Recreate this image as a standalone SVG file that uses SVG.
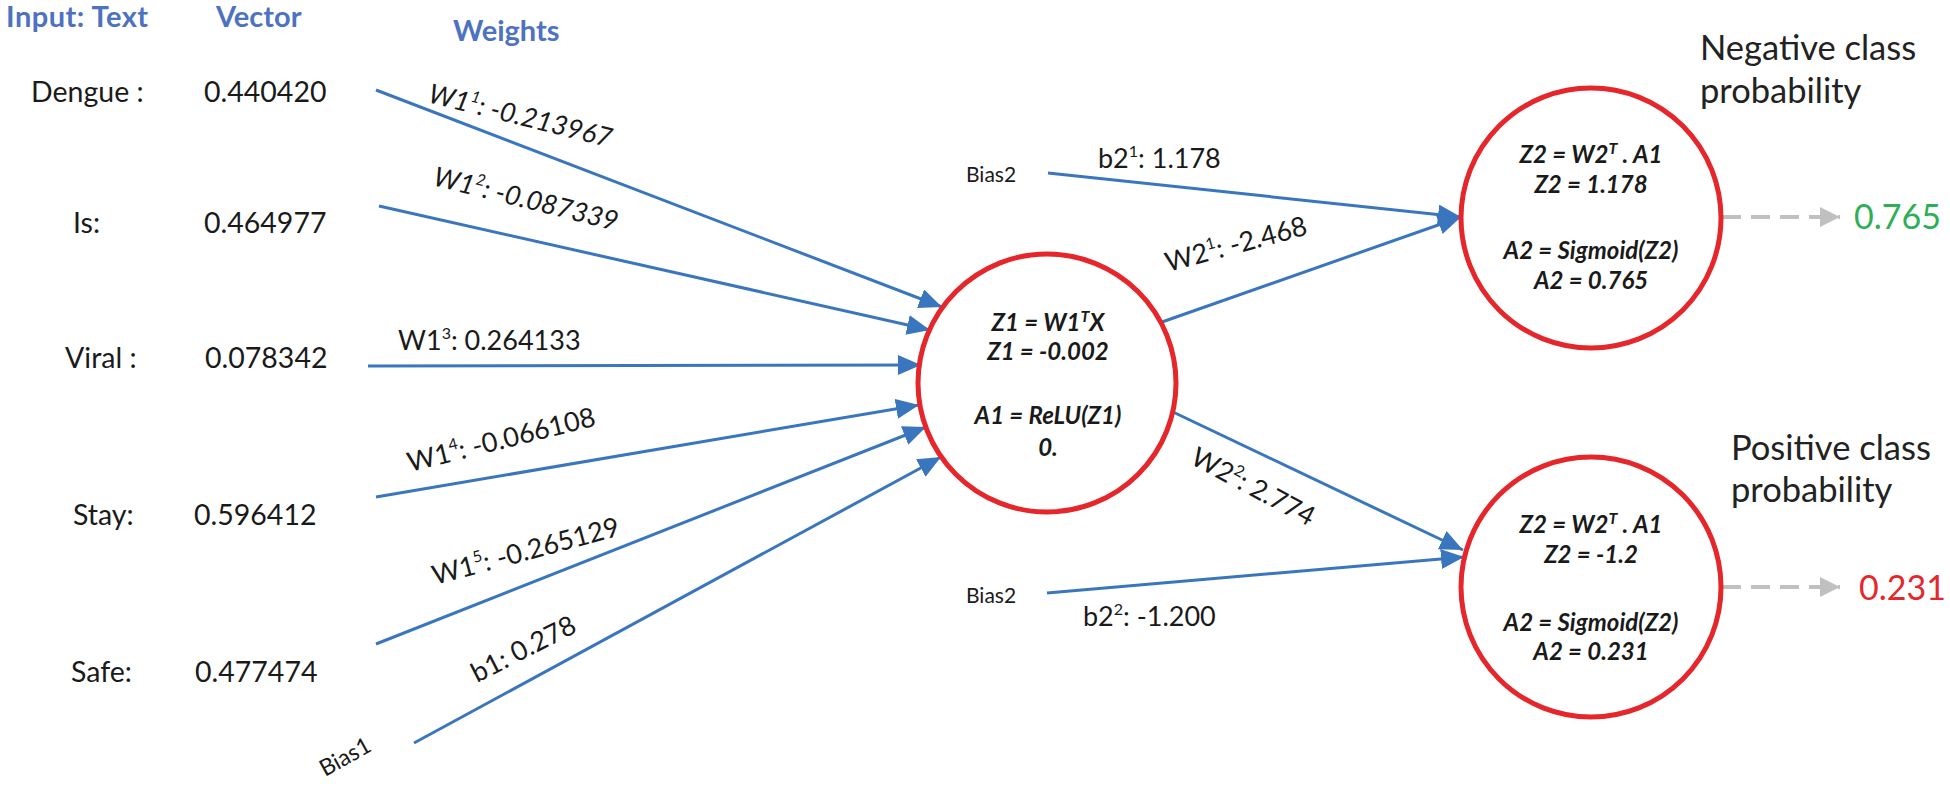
<svg xmlns="http://www.w3.org/2000/svg" width="1950" height="786" viewBox="0 0 1950 786">
<style>
  text { font-family: Lato, "Liberation Sans", sans-serif; fill: #1a1a1a; }
  .hdr { font-size: 29px; font-weight: bold; fill: #4D72C2; }
  .lbl { font-size: 28.5px; }
  .w { font-size: 27px; }
  .it { font-style: italic; }
  .sup { font-size: 16px; }
  .bias { font-size: 21px; }
  .node { font-size: 24px; font-weight: bold; font-style: italic; text-anchor: middle; }
  .title { font-size: 34.5px; fill: #222; }
  .out { font-size: 34px; }
  .conn { stroke: #3A76BD; stroke-width: 3; fill: none; marker-end: url(#arr); }
  .dash { stroke: #C0C0C0; stroke-width: 4; fill: none; stroke-dasharray: 19 10; marker-end: url(#garr); }
  .neuron { fill: #fff; stroke: #E5262B; stroke-width: 5; }
</style>
<defs>
  <marker id="arr" markerUnits="userSpaceOnUse" markerWidth="26" markerHeight="22" refX="23" refY="10" orient="auto">
    <path d="M0,0 L23,10 L0,20 Z" fill="#3A76BD"/>
  </marker>
  <marker id="garr" markerUnits="userSpaceOnUse" markerWidth="24" markerHeight="22" refX="20" refY="10" orient="auto">
    <path d="M0,0 L20,10 L0,20 Z" fill="#C0C0C0"/>
  </marker>
</defs>
<rect width="1950" height="786" fill="#fff"/>

<g id="headers">
  <text class="hdr" x="6" y="27" style="letter-spacing:0.5px">Input: Text</text>
  <text class="hdr" x="216" y="27">Vector</text>
  <text class="hdr" x="453" y="41">Weights</text>
</g>

<g id="connectors">
  <line class="conn" x1="376" y1="90" x2="942" y2="307"/>
  <line class="conn" x1="379" y1="206" x2="930" y2="330"/>
  <line class="conn" x1="368" y1="366" x2="921" y2="365"/>
  <line class="conn" x1="376" y1="497" x2="919" y2="405"/>
  <line class="conn" x1="376" y1="644" x2="926" y2="427"/>
  <line class="conn" x1="414" y1="743" x2="941" y2="457"/>
  <line class="conn" x1="1048" y1="173" x2="1461" y2="217"/>
  <line class="conn" x1="1162" y1="322" x2="1461" y2="217"/>
  <line class="conn" x1="1173" y1="412" x2="1463" y2="550"/>
  <line class="conn" x1="1047" y1="593" x2="1464" y2="557"/>
  <line class="dash" x1="1722" y1="217" x2="1840" y2="217"/>
  <line class="dash" x1="1722" y1="587" x2="1840" y2="587"/>
</g>

<g id="input-dengue">
  <text class="lbl" x="31" y="102">Dengue :</text>
  <text class="lbl" x="204" y="102">0.440420</text>
</g>
<g id="input-is">
  <text class="lbl" x="73" y="233">Is:</text>
  <text class="lbl" x="204" y="233">0.464977</text>
</g>
<g id="input-viral">
  <text class="lbl" x="65" y="368">Viral :</text>
  <text class="lbl" x="205" y="368">0.078342</text>
</g>
<g id="input-stay">
  <text class="lbl" x="73" y="525">Stay:</text>
  <text class="lbl" x="194" y="525">0.596412</text>
</g>
<g id="input-safe">
  <text class="lbl" x="71" y="682">Safe:</text>
  <text class="lbl" x="195" y="682">0.477474</text>
</g>
<g id="bias1">
  <text class="bias" style="font-size:23px" transform="translate(325,777) rotate(-29)">Bias1</text>
</g>

<g id="weight-labels">
  <text class="w it" transform="translate(427,102) rotate(14)">W1<tspan class="sup" dy="-11">1</tspan><tspan dy="11">: -0.213967</tspan></text>
  <text class="w it" transform="translate(432,185) rotate(14)">W1<tspan class="sup" dy="-11">2</tspan><tspan dy="11">: -0.087339</tspan></text>
  <text class="w" x="398" y="350">W1<tspan class="sup" dy="-11">3</tspan><tspan dy="11">: 0.264133</tspan></text>
  <text class="w" transform="translate(410,472) rotate(-14)">W1<tspan class="sup" dy="-11">4</tspan><tspan dy="11">: -0.066108</tspan></text>
  <text class="w" transform="translate(435,585) rotate(-15)">W1<tspan class="sup" dy="-11">5</tspan><tspan dy="11">: -0.265129</tspan></text>
  <text class="w" transform="translate(477,683) rotate(-27)">b1: 0.278</text>
  <text class="w" x="1098" y="168">b2<tspan class="sup" dy="-11">1</tspan><tspan dy="11">: 1.178</tspan></text>
  <text class="w" transform="translate(1168,272) rotate(-15)">W2<tspan class="sup" dy="-11">1</tspan><tspan dy="11">: -2.468</tspan></text>
  <text class="w" transform="translate(1189,463) rotate(28)">W2<tspan class="sup" dy="-11">2</tspan><tspan dy="11">: 2.774</tspan></text>
  <text class="w" x="1083" y="626">b2<tspan class="sup" dy="-11">2</tspan><tspan dy="11">: -1.200</tspan></text>
</g>

<g id="bias2-top">
  <text class="bias" x="966" y="182">Bias2</text>
</g>
<g id="bias2-bottom">
  <text class="bias" x="966" y="603">Bias2</text>
</g>

<g id="hidden-neuron">
  <circle class="neuron" cx="1047" cy="383" r="129"/>
  <text class="node" x="1048" y="331">Z1 = W1<tspan class="sup" dy="-9">T</tspan><tspan dy="9">X</tspan></text>
  <text class="node" x="1048" y="360">Z1 = -0.002</text>
  <text class="node" x="1048" y="424">A1 = ReLU(Z1)</text>
  <text class="node" x="1048" y="456">0.</text>
</g>

<g id="output-negative">
  <circle class="neuron" cx="1591" cy="218" r="130"/>
  <text class="node" x="1591" y="163">Z2 = W2<tspan class="sup" dy="-9">T</tspan><tspan dy="9"> . A1</tspan></text>
  <text class="node" x="1591" y="193">Z2 = 1.178</text>
  <text class="node" x="1591" y="259">A2 = Sigmoid(Z2)</text>
  <text class="node" x="1591" y="289">A2 = 0.765</text>
  <text class="title" x="1700" y="60">Negative class</text>
  <text class="title" x="1700" y="103">probability</text>
  <text class="out" x="1854" y="229" style="fill:#2EAF55">0.765</text>
</g>

<g id="output-positive">
  <circle class="neuron" cx="1591" cy="587" r="130"/>
  <text class="node" x="1591" y="533">Z2 = W2<tspan class="sup" dy="-9">T</tspan><tspan dy="9"> . A1</tspan></text>
  <text class="node" x="1591" y="563">Z2 = -1.2</text>
  <text class="node" x="1591" y="631">A2 = Sigmoid(Z2)</text>
  <text class="node" x="1591" y="660">A2 = 0.231</text>
  <text class="title" x="1731" y="460">Positive class</text>
  <text class="title" x="1731" y="502">probability</text>
  <text class="out" x="1859" y="600" style="fill:#E5262B">0.231</text>
</g>
</svg>
